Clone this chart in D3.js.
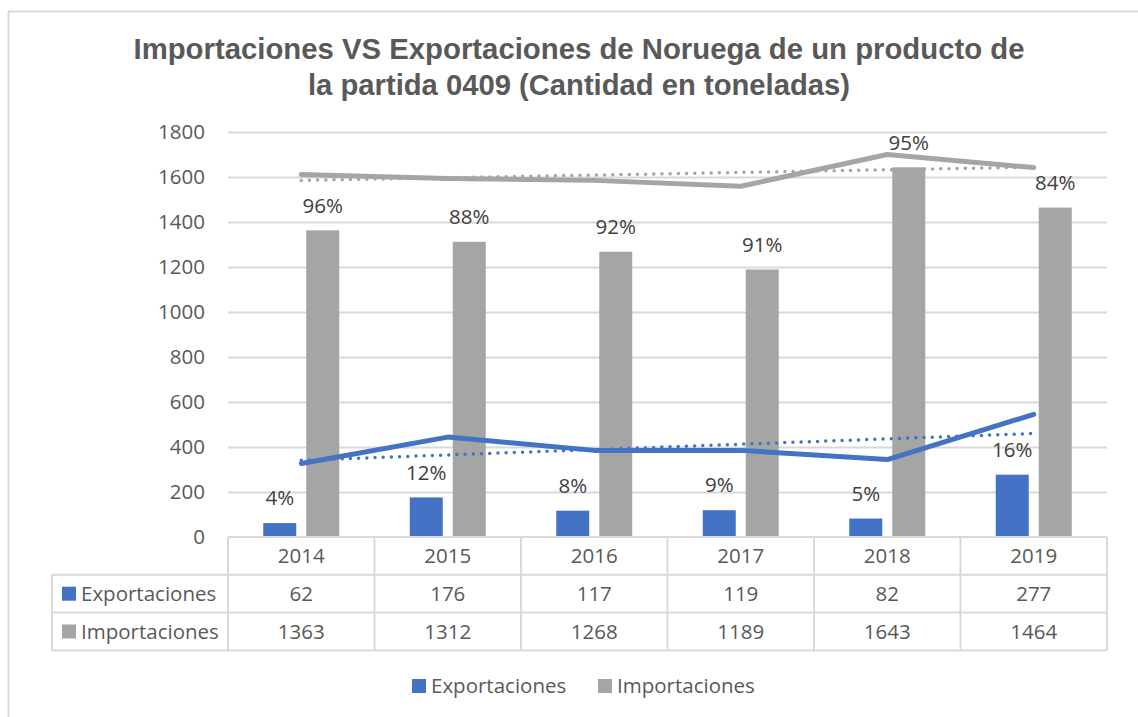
<!DOCTYPE html>
<html>
<head>
<meta charset="utf-8">
<script src="https://cdn.jsdelivr.net/npm/d3@7"></script>
<style>
  html, body { margin: 0; padding: 0; background: #ffffff; }
  svg { display: block; }
</style>
</head>
<body>
<div id="chart"></div>
<script>
// data
var years = ["2014", "2015", "2016", "2017", "2018", "2019"];
var exportaciones = [62, 176, 117, 119, 82, 277];
var importaciones = [1363, 1312, 1268, 1189, 1643, 1464];
var expPct = ["4%", "12%", "8%", "9%", "5%", "16%"];
var impPct = ["96%", "88%", "92%", "91%", "95%", "84%"];
// solid lines drawn over the bars
var lineExp = [327, 444, 385, 385, 344, 545];
var lineImp = [1611, 1593, 1585, 1559, 1700, 1642];
// dotted trend lines (first and last year)
var trendExp = [341, 460];
var trendImp = [1585, 1644];
var yTicks = [0, 200, 400, 600, 800, 1000, 1200, 1400, 1600, 1800];
var titleLines = ["Importaciones VS Exportaciones de Noruega de un producto de",
                  "la partida 0409 (Cantidad en toneladas)"];

var W = 1138, H = 717;
var colExp = "#4472C4", colImp = "#A5A5A5";
var txt = "#595959", grid = "#D9D9D9";
var font = "'Open Sans', 'DejaVu Sans', sans-serif";
var fs = 20.5;

var plotLeft = 228, plotRight = 1107, plotTop = 132, plotBottom = 537;
var rowH = 37.8;

var svg = d3.select("#chart").append("svg")
    .attr("width", W).attr("height", H)
    .style("background", "#ffffff");

// chart border (only top and left are visible in the picture)
svg.append("path")
    .attr("d", "M8.5," + H + " V11.5 H" + W)
    .attr("fill", "none").attr("stroke", grid).attr("stroke-width", 2);

// title
svg.append("g").selectAll("text").data(titleLines).enter().append("text")
    .attr("x", 579)
    .attr("y", function(d, i) { return 59 + i * 36; })
    .attr("text-anchor", "middle")
    .attr("textLength", function(d, i) { return i == 0 ? 891 : 542; })
    .attr("lengthAdjust", "spacingAndGlyphs")
    .style("font-family", "'Liberation Sans', Arial, sans-serif")
    .style("font-weight", "bold")
    .style("font-size", "29px")
    .style("fill", txt)
    .text(function(d) { return d; });

var x = d3.scaleBand().domain(years).range([plotLeft, plotRight]).padding(0);
var x1 = d3.scaleBand().domain(["exp", "imp"]).range([0, x.bandwidth()])
    .paddingInner(10 / 43).paddingOuter(0.82);
var y = d3.scaleLinear().domain([0, 1800]).range([plotBottom, plotTop]);

// gridlines
svg.append("g").selectAll("line").data(yTicks.slice(1)).enter().append("line")
    .attr("x1", plotLeft).attr("x2", plotRight)
    .attr("y1", function(d) { return y(d) + 0.5; })
    .attr("y2", function(d) { return y(d) + 0.5; })
    .attr("stroke", grid).attr("stroke-width", 2);

// y axis labels
var yAxis = svg.append("g")
    .attr("transform", "translate(" + (plotLeft - 23) + ",0)")
    .call(d3.axisLeft(y).tickValues(yTicks).tickFormat(d3.format("d")).tickSize(0).tickPadding(0));
yAxis.select(".domain").remove();
yAxis.selectAll("text")
    .style("font-family", font).style("font-size", fs + "px").style("fill", txt);

// bars
var groups = svg.append("g").selectAll("g").data(years).enter().append("g")
    .attr("transform", function(d) { return "translate(" + x(d) + ",0)"; });

groups.append("rect")
    .attr("x", x1("exp")).attr("width", x1.bandwidth())
    .attr("y", function(d, i) { return y(exportaciones[i]); })
    .attr("height", function(d, i) { return y(0) - y(exportaciones[i]); })
    .attr("fill", colExp);
groups.append("rect")
    .attr("x", x1("imp")).attr("width", x1.bandwidth())
    .attr("y", function(d, i) { return y(importaciones[i]); })
    .attr("height", function(d, i) { return y(0) - y(importaciones[i]); })
    .attr("fill", colImp);

// percentage labels
function pctLabels(key, vals, labels) {
    groups.append("text")
        .attr("x", x1(key) + x1.bandwidth() / 2)
        .attr("y", function(d, i) { return y(vals[i]) - 25; })
        .attr("text-anchor", "middle")
        .attr("dy", "0.35em")
        .style("font-family", font).style("font-size", fs + "px").style("fill", "#404040")
        .text(function(d, i) { return labels[i]; });
}
pctLabels("exp", exportaciones, expPct);
pctLabels("imp", importaciones, impPct);

// lines
var cx = function(d) { return x(d) + x.bandwidth() / 2; };
var line = d3.line()
    .x(function(d, i) { return cx(years[i]); })
    .y(function(d) { return y(d); });

function trend(vals, color) {
    var ends = [years[0], years[years.length - 1]];
    svg.append("path")
        .datum(vals)
        .attr("d", d3.line()
            .x(function(d, i) { return cx(ends[i]); })
            .y(function(d) { return y(d); }))
        .attr("fill", "none").attr("stroke", color)
        .attr("stroke-width", 3.5)
        .attr("stroke-linecap", "round")
        .attr("stroke-dasharray", "0 8.2");
}
trend(trendImp, colImp);
trend(trendExp, colExp);

svg.append("path").datum(lineImp).attr("d", line)
    .attr("fill", "none").attr("stroke", colImp).attr("stroke-width", 5)
    .attr("stroke-linecap", "round").attr("stroke-linejoin", "round");
svg.append("path").datum(lineExp).attr("d", line)
    .attr("fill", "none").attr("stroke", colExp).attr("stroke-width", 5)
    .attr("stroke-linecap", "round").attr("stroke-linejoin", "round");

// data table
var tableLeft = 52;
var t = svg.append("g");
var rowsY = [plotBottom, plotBottom + rowH, plotBottom + 2 * rowH, plotBottom + 3 * rowH];
t.append("line").attr("x1", plotLeft).attr("x2", plotRight)
    .attr("y1", rowsY[0]).attr("y2", rowsY[0]).attr("stroke", grid).attr("stroke-width", 2);
t.selectAll("line.h").data(rowsY.slice(1)).enter().append("line")
    .attr("x1", tableLeft).attr("x2", plotRight)
    .attr("y1", function(d) { return d; }).attr("y2", function(d) { return d; })
    .attr("stroke", grid).attr("stroke-width", 2);
var vx = years.map(function(d) { return x(d); }).concat([plotRight]);
t.selectAll("line.v").data(vx).enter().append("line")
    .attr("x1", function(d) { return d; }).attr("x2", function(d) { return d; })
    .attr("y1", rowsY[0]).attr("y2", rowsY[3])
    .attr("stroke", grid).attr("stroke-width", 2);
t.append("line").attr("x1", tableLeft).attr("x2", tableLeft)
    .attr("y1", rowsY[1]).attr("y2", rowsY[3])
    .attr("stroke", grid).attr("stroke-width", 2);

var rows = [years, exportaciones, importaciones];
rows.forEach(function(r, ri) {
    t.selectAll("text.r" + ri).data(r).enter().append("text")
        .attr("x", function(d, i) { return cx(years[i]); })
        .attr("y", rowsY[ri] + rowH / 2)
        .attr("dy", "0.35em")
        .attr("text-anchor", "middle")
        .style("font-family", font).style("font-size", fs + "px").style("fill", txt)
        .text(function(d) { return d; });
});

var series = [{ name: "Exportaciones", color: colExp }, { name: "Importaciones", color: colImp }];
series.forEach(function(s, i) {
    var ry = rowsY[i + 1] + rowH / 2;
    t.append("rect").attr("x", 62).attr("y", ry - 7).attr("width", 14).attr("height", 14)
        .attr("fill", s.color);
    t.append("text").attr("x", 81).attr("y", ry).attr("dy", "0.35em")
        .style("font-family", font).style("font-size", fs + "px").style("fill", txt)
        .text(s.name);
});

// legend
var legX = [412, 598];
var leg = svg.append("g").selectAll("g").data(series).enter().append("g")
    .attr("transform", function(d, i) { return "translate(" + legX[i] + ",686)"; });
leg.append("rect").attr("x", 0).attr("y", -7).attr("width", 14).attr("height", 14)
    .attr("fill", function(d) { return d.color; });
leg.append("text").attr("x", 19).attr("dy", "0.35em")
    .style("font-family", font).style("font-size", fs + "px").style("fill", txt)
    .text(function(d) { return d.name; });
</script>
</body>
</html>
